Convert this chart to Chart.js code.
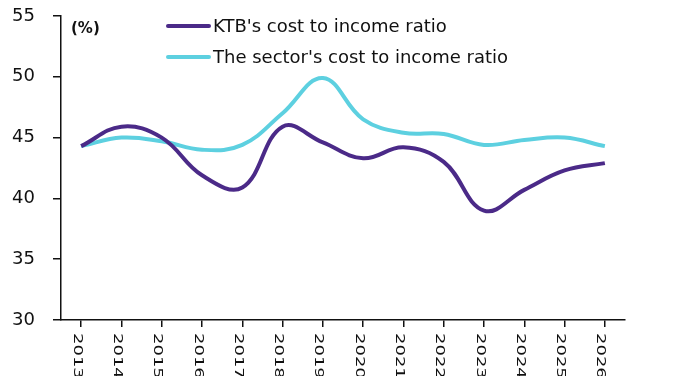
<!DOCTYPE html>
<html>
<head>
<meta charset="utf-8">
<script src="https://cdn.jsdelivr.net/npm/chart.js@4.4.1/dist/chart.umd.min.js"></script>
<style>
  html, body { margin: 0; background: #fff; }
  #wrap { position: relative; width: 674px; height: 376px; }
</style>
</head>
<body>
<div id="wrap"><canvas id="c" width="674" height="376"></canvas></div>
<script>
// values
const years = ['2013','2014','2015','2016','2017','2018','2019','2020','2021','2022','2023','2024','2025','2026'];
const ktbRatio    = [44.3, 45.9, 45.0, 41.9, 40.9, 45.9, 44.6, 43.3, 44.2, 43.0, 39.0, 40.7, 42.3, 42.9];
const sectorRatio = [44.3, 45.0, 44.7, 44.0, 44.4, 47.0, 49.9, 46.5, 45.4, 45.3, 44.4, 44.8, 45.0, 44.3];
const yTicks = [30, 35, 40, 45, 50, 55];

const PURPLE = '#4b2a88';
const CYAN = '#5dd0e0';
const FONT = '"DejaVu Sans", sans-serif';

// x labels read top-to-bottom, legend and unit sit inside the plot
const overlay = {
  id: 'overlay',
  afterDraw(chart) {
    const ctx = chart.ctx;
    const x = chart.scales.x;
    ctx.save();
    ctx.fillStyle = '#111';
    ctx.font = '18px ' + FONT;
    ctx.textAlign = 'left';
    ctx.textBaseline = 'middle';
    years.forEach((y, i) => {
      const px = x.getPixelForValue(i) - 4;
      ctx.save();
      ctx.translate(px, x.top + 13);
      ctx.rotate(Math.PI / 2);
      ctx.scale(1, 0.72);
      ctx.fillText(y, 0, 0);
      ctx.restore();
    });

    ctx.font = 'bold 15px ' + FONT;
    ctx.fillText('(%)', 71, 29);

    ctx.font = '18px ' + FONT;
    ctx.lineCap = 'round';
    ctx.lineWidth = 4;
    chart.data.datasets.forEach((ds, i) => {
      const ly = 26 + i * 31;
      ctx.strokeStyle = ds.borderColor;
      ctx.beginPath();
      ctx.moveTo(168, ly);
      ctx.lineTo(209, ly);
      ctx.stroke();
      ctx.fillText(ds.label, 213, ly + 1);
    });
    ctx.restore();
  }
};

new Chart(document.getElementById('c'), {
  type: 'line',
  data: {
    labels: years,
    datasets: [
      { label: "KTB's cost to income ratio", data: ktbRatio, borderColor: PURPLE, borderWidth: 4, tension: 0.4, pointRadius: 0, fill: false },
      { label: "The sector's cost to income ratio", data: sectorRatio, borderColor: CYAN, borderWidth: 4, tension: 0.4, pointRadius: 0, fill: false }
    ]
  },
  options: {
    responsive: false,
    animation: false,
    layout: { padding: { left: 0, right: 49, top: 16, bottom: 0 } },
    plugins: { legend: { display: false }, tooltip: { enabled: false } },
    scales: {
      x: {
        offset: true,
        grid: { drawOnChartArea: false, drawTicks: true, tickLength: 7, color: '#111', lineWidth: 1.5 },
        border: { color: '#111', width: 1.5 },
        ticks: { color: 'rgba(0,0,0,0)', autoSkip: false, minRotation: 90, maxRotation: 90, font: { family: FONT, size: 16 } },
        afterFit(s) { s.height = 56; s.paddingLeft = 0; s.paddingRight = 0; }
      },
      y: {
        min: 30, max: 55,
        afterBuildTicks(s) { s.ticks = yTicks.map(v => ({ value: v })); },
        grid: { drawOnChartArea: false, drawTicks: true, tickLength: 8, color: '#111', lineWidth: 1.5 },
        border: { color: '#111', width: 1.5 },
        ticks: { color: '#111', padding: 18, font: { family: FONT, size: 18 } },
        afterFit(s) { s.width = 61; s.paddingTop = 0; s.paddingBottom = 0; }
      }
    }
  },
  plugins: [overlay]
});
</script>
</body>
</html>
